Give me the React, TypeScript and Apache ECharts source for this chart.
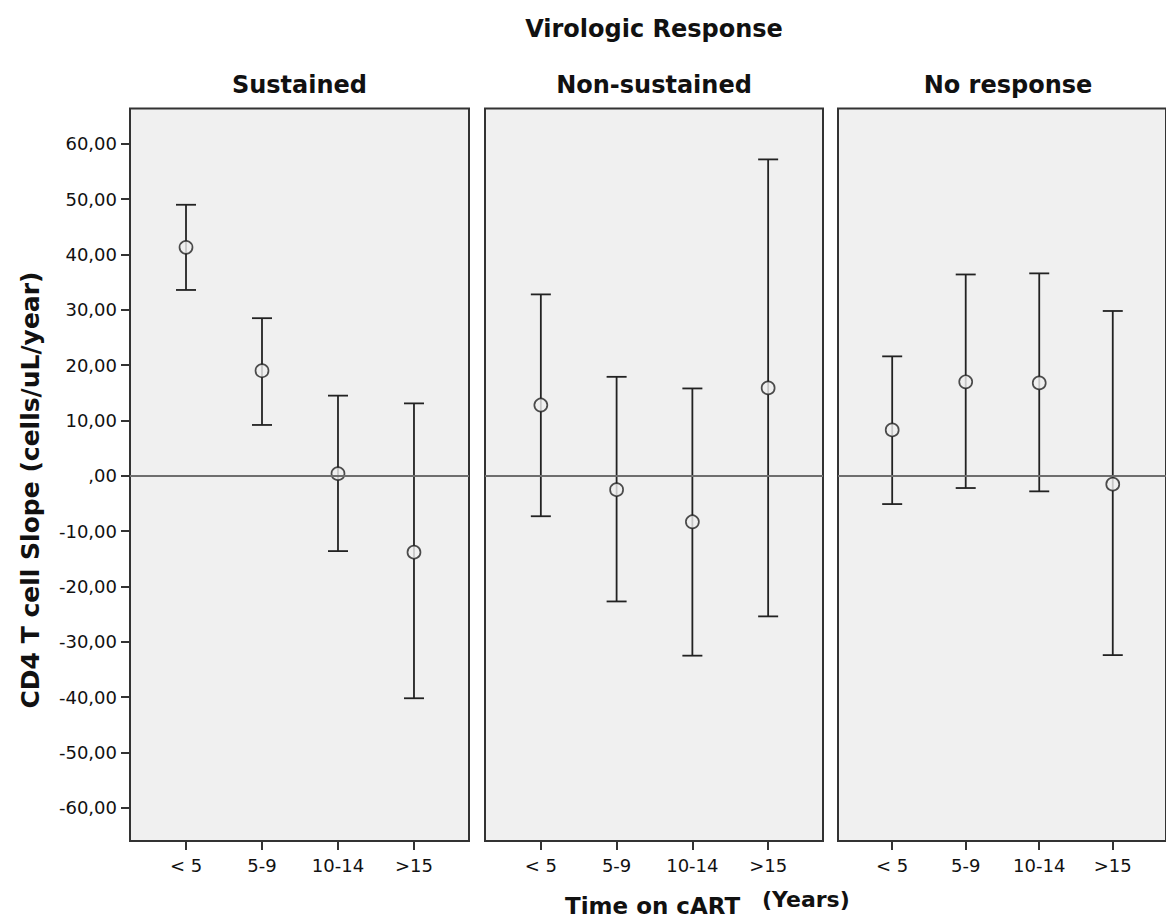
import React, { useEffect, useRef } from "react";
import * as echarts from "echarts";

const categories = ["< 5", "5-9", "10-14", ">15"];
const panelTitles = ["Sustained", "Non-sustained", "No response"];
const yTicks = [-60, -50, -40, -30, -20, -10, 0, 10, 20, 30, 40, 50, 60];

const sustainedMean = [41.3, 19.0, 0.4, -13.8];
const sustainedLow = [33.6, 9.2, -13.6, -40.2];
const sustainedHigh = [49.0, 28.5, 14.5, 13.1];

const nonSustainedMean = [12.8, -2.5, -8.3, 15.9];
const nonSustainedLow = [-7.3, -22.7, -32.5, -25.4];
const nonSustainedHigh = [32.8, 17.9, 15.8, 57.2];

const noResponseMean = [8.3, 17.0, 16.8, -1.5];
const noResponseLow = [-5.1, -2.2, -2.8, -32.4];
const noResponseHigh = [21.6, 36.4, 36.6, 29.8];

const means = [sustainedMean, nonSustainedMean, noResponseMean];
const lows = [sustainedLow, nonSustainedLow, noResponseLow];
const highs = [sustainedHigh, nonSustainedHigh, noResponseHigh];

const FONT = "DejaVu Sans";
const INK = "#222222";

export default function App() {
  const ref = useRef<HTMLDivElement>(null);

  useEffect(() => {
    if (!ref.current) return;
    const chart = echarts.init(ref.current, undefined, { renderer: "svg" });

    const lefts = [130, 485, 838];
    const widths = [339, 338, 340];
    const top = 108.5;
    const height = 732.5;
    const centers = lefts.map((l, i) => l + widths[i] / 2);

    const grid = lefts.map((l, i) => ({
      left: l,
      top,
      width: widths[i],
      height,
      show: true,
      backgroundColor: "#f0f0f0",
      borderColor: "#333333",
      borderWidth: 2,
    }));

    const xAxis = lefts.map((_, i) => ({
      type: "value",
      gridIndex: i,
      position: "bottom",
      min: -0.737,
      max: 3.724,
      axisLine: { show: false, onZero: false },
      splitLine: { show: false },
      axisTick: {
        show: true,
        customValues: [0, 1, 2, 3],
        length: 9,
        lineStyle: { color: "#333333", width: 2 },
      },
      axisLabel: {
        show: true,
        customValues: [0, 1, 2, 3],
        formatter: (v: number) => categories[Math.round(v)] ?? "",
        fontSize: 18,
        fontFamily: FONT,
        color: "#111111",
        margin: 15,
      },
    }));

    const yAxis = lefts.map((_, i) => ({
      type: "value",
      gridIndex: i,
      position: "left",
      min: -66,
      max: 66.4,
      axisLine: { show: false, onZero: false },
      splitLine: { show: false },
      axisTick: {
        show: i === 0,
        customValues: yTicks,
        length: 9,
        lineStyle: { color: "#333333", width: 2 },
      },
      axisLabel: {
        show: i === 0,
        customValues: yTicks,
        formatter: (v: number) => (v === 0 ? ",00" : `${v},00`),
        fontSize: 18,
        fontFamily: FONT,
        color: "#111111",
        margin: 13,
      },
    }));

    const series: any[] = [];
    for (let i = 0; i < 3; i++) {
      series.push({
        type: "line",
        xAxisIndex: i,
        yAxisIndex: i,
        data: [],
        z: 1,
        silent: true,
        markLine: {
          silent: true,
          symbol: ["none", "none"],
          label: { show: false },
          lineStyle: { color: "#6e6e6e", width: 2, type: "solid" },
          data: [{ yAxis: 0 }],
        },
      });
      series.push({
        type: "custom",
        xAxisIndex: i,
        yAxisIndex: i,
        z: 2,
        data: categories.map((_, j) => [j, lows[i][j], highs[i][j]]),
        encode: { x: 0, y: [1, 2] },
        renderItem: (params: any, api: any) => {
          const x = api.value(0);
          const pLo = api.coord([x, api.value(1)]);
          const pHi = api.coord([x, api.value(2)]);
          const hw = 10;
          const style = { stroke: INK, lineWidth: 1.8 };
          return {
            type: "group",
            children: [
              { type: "line", shape: { x1: pLo[0], y1: pLo[1], x2: pHi[0], y2: pHi[1] }, style },
              { type: "line", shape: { x1: pHi[0] - hw, y1: pHi[1], x2: pHi[0] + hw, y2: pHi[1] }, style },
              { type: "line", shape: { x1: pLo[0] - hw, y1: pLo[1], x2: pLo[0] + hw, y2: pLo[1] }, style },
            ],
          };
        },
      });
      series.push({
        type: "scatter",
        xAxisIndex: i,
        yAxisIndex: i,
        z: 3,
        symbol: "circle",
        symbolSize: 13,
        itemStyle: { color: "#f0f0f0", borderColor: INK, borderWidth: 1.7 },
        data: categories.map((_, j) => [j, means[i][j]]),
      });
    }

    const titleStyle = {
      fontFamily: FONT,
      fontWeight: "bold",
      fill: "#111111",
      align: "center",
      verticalAlign: "middle",
    };

    const graphic: any[] = [
      {
        type: "text",
        x: centers[1],
        y: 29,
        style: { ...titleStyle, text: "Virologic Response", fontSize: 24 },
      },
      ...panelTitles.map((t, i) => ({
        type: "text",
        x: centers[i],
        y: 85,
        style: { ...titleStyle, text: t, fontSize: 24 },
      })),
      {
        type: "text",
        x: 30,
        y: 490,
        rotation: Math.PI / 2,
        style: { ...titleStyle, text: "CD4 T cell Slope (cells/uL/year)", fontSize: 25 },
      },
      {
        type: "text",
        x: 565,
        y: 906,
        style: { ...titleStyle, align: "left", text: "Time on cART", fontSize: 23 },
      },
      {
        type: "text",
        x: 762,
        y: 899,
        style: { ...titleStyle, align: "left", text: "(Years)", fontSize: 22 },
      },
    ];

    chart.setOption({
      animation: false,
      backgroundColor: "#ffffff",
      grid,
      xAxis,
      yAxis,
      series,
      graphic,
    });

    return () => chart.dispose();
  }, []);

  return (
    <div
      ref={ref}
      style={{ position: "absolute", left: 0, top: 0, width: 1166, height: 922 }}
    />
  );
}
